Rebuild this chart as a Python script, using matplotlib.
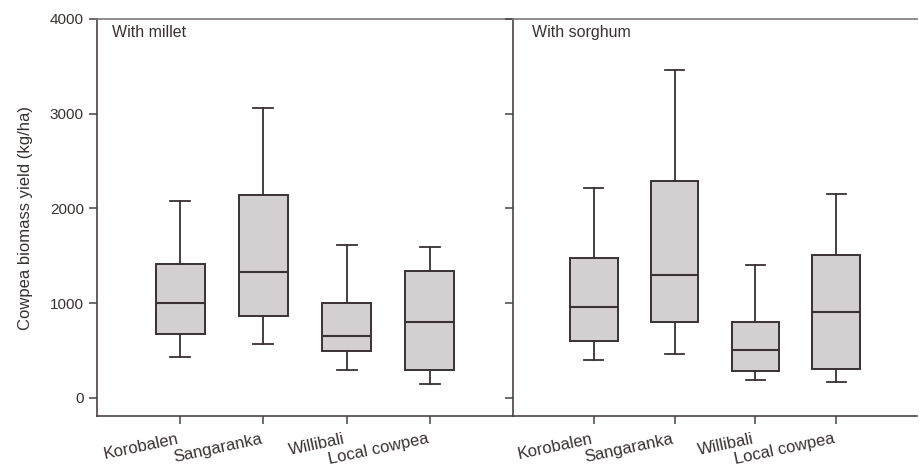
import matplotlib
matplotlib.use("Agg")
import matplotlib.pyplot as plt

plt.rcParams['font.family'] = ['Liberation Sans', 'DejaVu Sans']

categories = ["Korobalen", "Sangaranka", "Willibali", "Local cowpea"]
panels = ["With millet", "With sorghum"]

# five-number summaries: whisker low, Q1, median, Q3, whisker high
millet_low = [430, 568, 293, 145]
millet_q1 = [678, 864, 494, 296]
millet_med = [998, 1333, 653, 801]
millet_q3 = [1413, 2145, 998, 1344]
millet_high = [2078, 3065, 1619, 1591]

sorghum_low = [405, 469, 187, 173]
sorghum_q1 = [603, 804, 286, 310]
sorghum_med = [963, 1298, 505, 903]
sorghum_q3 = [1481, 2293, 801, 1506]
sorghum_high = [2212, 3460, 1404, 2148]

yticks = [0, 1000, 2000, 3000, 4000]

text_c = '#3a3030'
edge_c = '#3a3232'
fill_c = '#d4d0d1'

fig = plt.figure(figsize=(9.19, 4.68), dpi=100)
L, R, M = 97/919, 917/919, 513/919
B, T = 1 - 416/468, 1 - 19/468
ax1 = fig.add_axes([L, B, M - L, T - B])
ax2 = fig.add_axes([M, B, R - M, T - B])

def stats(low, q1, med, q3, high):
    out = []
    for i in range(len(low)):
        out.append(dict(whislo=low[i], q1=q1[i], med=med[i], q3=q3[i], whishi=high[i], fliers=[]))
    return out

data = [stats(millet_low, millet_q1, millet_med, millet_q3, millet_high),
        stats(sorghum_low, sorghum_q1, sorghum_med, sorghum_q3, sorghum_high)]

for k, (ax, st) in enumerate(zip([ax1, ax2], data)):
    pos = list(range(1, len(categories) + 1))
    ax.bxp(st, positions=pos, widths=0.59, capwidths=0.24, patch_artist=True, showfliers=False,
           boxprops=dict(facecolor=fill_c, edgecolor=edge_c, linewidth=1.4),
           medianprops=dict(color=edge_c, linewidth=1.5),
           whiskerprops=dict(color=edge_c, linewidth=1.3),
           capprops=dict(color=edge_c, linewidth=1.3))
    ax.set_xlim(0, 5)
    ax.set_ylim(-190, 4000)
    ax.set_yticks(yticks)
    ax.set_xticks(pos)
    ax.set_xticklabels(categories, rotation=12, ha='right', va='top', fontsize=12, color=text_c)
    ax.tick_params(axis='both', direction='out', length=6, width=1.1, color='#4a4242')
    ax.tick_params(axis='x', pad=5)
    for s in ax.spines.values():
        s.set_color('#4a4242')
        s.set_linewidth(1.2)
    ax.spines['top'].set_color('#7f7878')
    ax.spines['right'].set_visible(False)
    ax.text(0.036 if k == 0 else 0.047, 0.985, panels[k], transform=ax.transAxes, fontsize=11.5,
            color=text_c, ha='left', va='top')

ax1.set_yticklabels([str(v) for v in yticks], fontsize=11, color=text_c)
ax2.set_yticklabels([])
ax1.set_ylabel("Cowpea biomass yield (kg/ha)", fontsize=12, color=text_c, labelpad=12)

fig.savefig("out.png", dpi=100)
